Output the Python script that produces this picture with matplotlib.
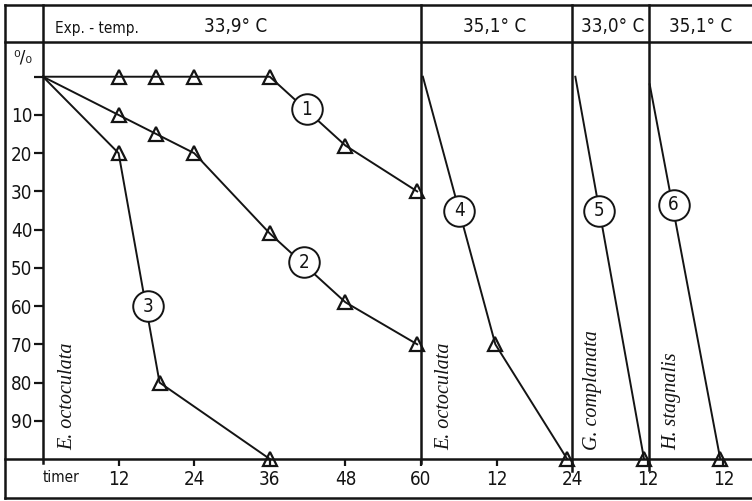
import matplotlib
matplotlib.use("Agg")
import matplotlib.pyplot as plt
from matplotlib.lines import Line2D
from matplotlib import font_manager

W, H = 752, 501
SANS = "DejaVu Sans"
_has_cond = any(f.name == "DejaVu Sans" and f.stretch in ("condensed", 300, "semi-condensed")
                for f in font_manager.fontManager.ttflist)
STRETCH = "condensed" if _has_cond else "normal"
SERIF = "Liberation Serif"
INK = "#141414"

# ---------------- data ----------------
panel_offsets = [0, 60, 84, 96]            # hours where each panel starts
panel_temps = ["33,9° C", "35,1° C", "33,0° C", "35,1° C"]
panel_species = ["E. octoculata", "E. octoculata", "G. complanata", "H. stagnalis"]
x_tick_pos = [12, 24, 36, 48, 60, 72, 84, 96, 108]
x_tick_labels = ["12", "24", "36", "48", "60", "12", "24", "12", "12"]
y_tick_values = [0, 10, 20, 30, 40, 50, 60, 70, 80, 90]
y_tick_labels = ["", "10", "20", "30", "40", "50", "60", "70", "80", "90"]

curve_ids = ["1", "2", "3", "4", "5", "6"]
curve_panel = [0, 0, 0, 1, 2, 3]
hours_1 = [0, 12, 18, 24, 36, 48, 59.4]
mort_1 = [0, 0, 0, 0, 0, 18, 30]
hours_2 = [0, 12, 18, 24, 36, 48, 59.4]
mort_2 = [0, 10, 15, 20, 41, 59, 70]
hours_3 = [0, 12, 18.5, 36]
mort_3 = [0, 20, 80, 100]
hours_4 = [0.3, 11.8, 23.2]
mort_4 = [0, 70, 100]
hours_5 = [0.5, 11.4]
mort_5 = [0, 100]
hours_6 = [0.3, 11.5]
mort_6 = [2, 100]
curve_hours = [hours_1, hours_2, hours_3, hours_4, hours_5, hours_6]
curve_mort = [mort_1, mort_2, mort_3, mort_4, mort_5, mort_6]

# circle label positions (hours within panel, % mortality)
label_hours = [41.9, 41.4, 16.7, 6.1, 4.2, 4.1]
label_mort = [8.5, 48.5, 60, 35, 35, 33.5]

# ---------------- figure ----------------
fig = plt.figure(figsize=(W / 100, H / 100), dpi=100)
fig.patch.set_facecolor("white")

PX_PER_H = (421 - 43) / 60.0
ax = fig.add_axes([43 / W, 1 - 459 / H, (W - 43) / W, (459 - 42) / H])
ax.set_xlim(0, (W - 43) / PX_PER_H)
ax.set_ylim(100, (42 - 76.7) / 3.82)
for s in ax.spines.values():
    s.set_visible(False)
ax.set_facecolor("none")

ax.set_xticks(x_tick_pos)
ax.set_xticklabels(x_tick_labels, fontfamily=SANS, fontstretch=STRETCH,
                   fontsize=13.5, color=INK)
ax.set_yticks(y_tick_values)
ax.set_yticklabels(y_tick_labels, fontfamily=SANS, fontstretch=STRETCH,
                   fontsize=13.5, color=INK)
ax.tick_params(axis="x", direction="out", length=5, width=1.6, pad=3, colors=INK)
ax.tick_params(axis="y", direction="out", length=6.5, width=1.6, pad=1, colors=INK)

# curves
for i in range(len(curve_ids)):
    off = panel_offsets[curve_panel[i]]
    xs = [off + h for h in curve_hours[i]]
    ax.plot(xs, curve_mort[i], color=INK, lw=1.4, marker="^", ms=10,
            mfc="none", mec=INK, mew=1.6, markevery=slice(1, None),
            clip_on=False, zorder=3)
    lx = off + label_hours[i]
    ax.plot([lx], [label_mort[i]], marker="o", ms=22, mfc="white", mec=INK,
            mew=1.4, zorder=4, clip_on=False)
    ax.text(lx, label_mort[i], curve_ids[i], ha="center", va="center",
            fontfamily=SANS, fontstretch=STRETCH, fontsize=13.5, color=INK, zorder=5)

# species labels
species_hours = [4.0, 3.8, 3.3, 3.8]
for k in range(4):
    ax.text(panel_offsets[k] + species_hours[k], 97.6, panel_species[k],
            rotation=90, ha="center", va="bottom", fontfamily=SERIF,
            fontstyle="italic", fontsize=14.5, color=INK)

# ---------------- frame lines (pixel layout) ----------------
def hline(y, x0, x1, lw=1.8):
    fig.add_artist(Line2D([x0 / W, x1 / W], [1 - y / H, 1 - y / H],
                          color=INK, lw=lw, transform=fig.transFigure))

def vline(x, y0, y1, lw=1.8):
    fig.add_artist(Line2D([x / W, x / W], [1 - y0 / H, 1 - y1 / H],
                          color=INK, lw=lw, transform=fig.transFigure))

hline(5, 5, W)
hline(42, 5, W)
hline(459, 5, W)
hline(498, 5, W)
vline(5, 5, 498)
vline(43, 5, 463)
vline(421, 5, 463)
vline(572, 5, 471)
vline(649, 5, 470)

# header texts
fig.text(55 / W, 1 - 28 / H, "Exp. - temp.", ha="left", va="center",
         fontfamily=SANS, fontstretch=STRETCH, fontsize=11, color=INK)
temp_centers = [236, 495, 613, 701]
for k in range(4):
    fig.text(temp_centers[k] / W, 1 - 26 / H, panel_temps[k], ha="center",
             va="center", fontfamily=SANS, fontstretch=STRETCH, fontsize=13.5, color=INK)

fig.text(23 / W, 1 - 57 / H, "⁰/₀", ha="center", va="center",
         fontfamily="DejaVu Sans", fontsize=12, color=INK)
fig.text(43 / W, 1 - 477 / H, "timer", ha="left", va="center",
         fontfamily=SANS, fontstretch=STRETCH, fontsize=11, color=INK)

fig.savefig("out.png", dpi=100, facecolor="white")
